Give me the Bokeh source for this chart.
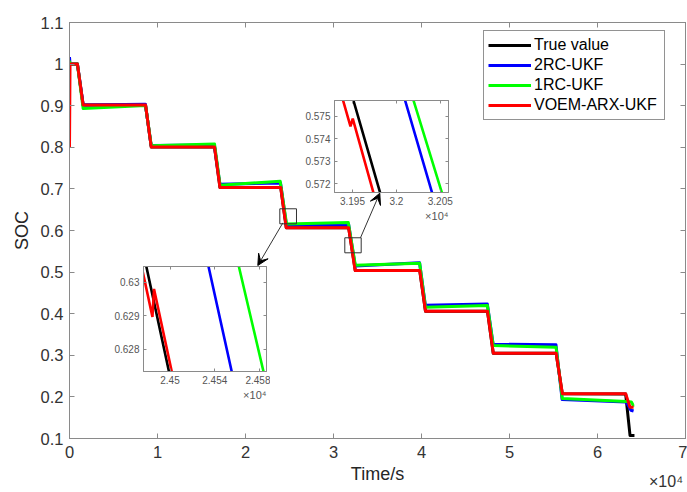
from bokeh.plotting import figure
from bokeh.models import (Range1d, LinearAxis, FixedTicker, CustomJSTickFormatter, Legend,
                          LegendItem, BoxAnnotation, Arrow, VeeHead, GridBox, Title, Div)
from bokeh.embed import file_html
from bokeh.resources import INLINE

# ---------------- data (time in s, SOC) ----------------
true_t = [0, 900, 1550, 8640, 9290, 16480, 17100, 24006, 24634, 31724, 32480, 39800,
          40450, 47500, 48150, 55300, 56000, 63200, 63700, 64200]
true_soc = [1.0, 1.0, 0.9015, 0.9015, 0.8005, 0.8005, 0.7035, 0.7035, 0.6065, 0.6065, 0.504,
            0.504, 0.406, 0.406, 0.305, 0.305, 0.2075, 0.207, 0.107, 0.107]

rc2_t = [0, 60, 900, 1550, 8620, 9280, 16460, 17090, 23980, 24647, 31721, 32466, 39780,
         40440, 47480, 48140, 55280, 55980, 63250, 63800, 64100]
rc2_soc = [1.017, 1.0, 1.0, 0.9015, 0.9035, 0.8045, 0.8055, 0.711, 0.714, 0.6135, 0.6145,
           0.5145, 0.5225, 0.4205, 0.4235, 0.3265, 0.3255, 0.1935, 0.188, 0.168, 0.166]

rc1_t = [0, 60, 900, 1550, 8640, 9300, 16480, 17110, 23941, 24667, 31680, 32484, 39790,
         40450, 47490, 48150, 55290, 56000, 63300, 63850, 64050, 64150]
rc1_soc = [1.008, 1.0, 1.0, 0.893, 0.9005, 0.8035, 0.808, 0.709, 0.7185, 0.6155, 0.619,
           0.5165, 0.5215, 0.4155, 0.4195, 0.3235, 0.3195, 0.196, 0.189, 0.188, 0.18, 0.181]

voem_t = [0, 60, 900, 1550, 8640, 9290, 16480, 17100, 24003, 24484.3, 24485.7, 24636, 31716,
          31947.7, 31950.3, 32455, 39800, 40460, 47500, 48160, 55300, 56010, 63200, 63700, 64100]
voem_soc = [0.80, 1.0, 1.0, 0.9015, 0.9015, 0.8005, 0.8005, 0.7035, 0.7035, 0.62897, 0.6298,
            0.6065, 0.6065, 0.57455, 0.5749, 0.504, 0.504, 0.406, 0.406, 0.305, 0.305, 0.2075,
            0.2075, 0.175, 0.175]

series_names = ["True value", "2RC-UKF", "1RC-UKF", "VOEM-ARX-UKF"]
series_t = [true_t, rc2_t, rc1_t, voem_t]
series_soc = [true_soc, rc2_soc, rc1_soc, voem_soc]
series_colors = ["#000000", "#0000ff", "#00ff00", "#ff0000"]

# ticks
x_ticks = [0, 10000, 20000, 30000, 40000, 50000, 60000, 70000]
x_tick_labels = ["0", "1", "2", "3", "4", "5", "6", "7"]
y_ticks = [0.1, 0.2, 0.3, 0.4, 0.5, 0.6, 0.7, 0.8, 0.9, 1.0, 1.1]
y_tick_labels = ["0.1", "0.2", "0.3", "0.4", "0.5", "0.6", "0.7", "0.8", "0.9", "1", "1.1"]
x_multiplier = "×10⁴"

in1_x_ticks = [24500, 24540, 24580]
in1_x_labels = ["2.45", "2.454", "2.458"]
in1_y_ticks = [0.628, 0.629, 0.630]
in1_y_labels = ["0.628", "0.629", "0.63"]
in2_x_ticks = [31950, 32000, 32050]
in2_x_labels = ["3.195", "3.2", "3.205"]
in2_y_ticks = [0.572, 0.573, 0.574, 0.575]
in2_y_labels = ["0.572", "0.573", "0.574", "0.575"]

FONT = "Liberation Sans"
AX_COL = "#8a8a8a"


def fmt(tv, tl):
    return CustomJSTickFormatter(args=dict(tv=tv, tl=tl), code="""
        for (let i = 0; i < tv.length; i++) {
            if (Math.abs(tv[i] - tick) <= 1e-9 * Math.max(1, Math.abs(tick))) return tl[i];
        }
        return "";
    """)


def blank():
    return CustomJSTickFormatter(code="return '';")


def style_axis(ax, size, color, tick_in, standoff):
    ax.major_tick_in = tick_in
    ax.major_tick_out = 0
    ax.minor_tick_in = 0
    ax.minor_tick_out = 0
    ax.axis_line_color = AX_COL
    ax.major_tick_line_color = AX_COL
    ax.major_label_text_font = FONT
    ax.major_label_text_font_size = size
    ax.major_label_text_color = color
    ax.major_label_standoff = standoff


# ---------------- main figure ----------------
p = figure(width=687, height=492, x_range=Range1d(0, 70000), y_range=Range1d(0.1, 1.1),
           output_backend="svg", toolbar_location=None,
           min_border_left=69, min_border_right=2, min_border_top=22, min_border_bottom=54,
           background_fill_color="white", border_fill_color="white",
           outline_line_color="#5a5a5a")
p.xgrid.visible = False
p.ygrid.visible = False

p.xaxis.ticker = FixedTicker(ticks=x_ticks)
p.xaxis.formatter = fmt(x_ticks, x_tick_labels)
p.yaxis.ticker = FixedTicker(ticks=y_ticks)
p.yaxis.formatter = fmt(y_ticks, y_tick_labels)
style_axis(p.xaxis[0], "16.5px", "#333333", 5, 7)
style_axis(p.yaxis[0], "16.5px", "#333333", 5, 6)
p.xaxis.axis_label = "Time/s"
p.yaxis.axis_label = "SOC"
for ax in (p.xaxis[0], p.yaxis[0]):
    ax.axis_label_text_font = FONT
    ax.axis_label_text_font_size = "18px"
    ax.axis_label_text_font_style = "normal"
    ax.axis_label_text_color = "#262626"
    ax.axis_label_standoff = 3
p.yaxis.axis_label_standoff = 6

ax_r = LinearAxis(ticker=FixedTicker(ticks=y_ticks), formatter=blank())
style_axis(ax_r, "1px", "#333333", 5, 0)
p.add_layout(ax_r, "right")
ax_t = LinearAxis(ticker=FixedTicker(ticks=x_ticks), formatter=blank())
style_axis(ax_t, "1px", "#333333", 5, 0)
p.add_layout(ax_t, "above")

renderers = []
for t, s, c in zip(series_t, series_soc, series_colors):
    renderers.append(p.line(t, s, line_color=c, line_width=3, line_join="round"))

legend = Legend(items=[LegendItem(label=n, renderers=[r]) for n, r in zip(series_names, renderers)],
                location=(414, 318), glyph_width=43, glyph_height=20, label_height=20,
                label_width=126, label_standoff=3, padding=4, spacing=0, margin=0,
                border_line_color="#262626", border_line_width=1,
                label_text_font=FONT, label_text_font_size="16px", label_text_color="#000000",
                background_fill_color="white", background_fill_alpha=1)
p.add_layout(legend)

# zoom boxes & arrows (annotation positions)
box1 = dict(left=23898, right=25795, bottom=0.6161, top=0.6522)
box2 = dict(left=31284, right=33148, bottom=0.5464, top=0.5825)
for b in (box1, box2):
    p.add_layout(BoxAnnotation(left=b["left"], right=b["right"], bottom=b["bottom"], top=b["top"],
                               fill_alpha=0, line_color="#333333", line_alpha=1, line_width=1))
p.add_layout(Arrow(x_start=24250, y_start=0.6185, x_end=21398, y_end=0.5159,
                   line_color="#333333", line_width=1,
                   end=VeeHead(size=11, fill_color="black", line_color="black")))
p.add_layout(Arrow(x_start=33068, y_start=0.5825, x_end=35261, y_end=0.6897,
                   line_color="#333333", line_width=1,
                   end=VeeHead(size=11, fill_color="black", line_color="black")))


# ---------------- insets ----------------
def make_inset(w, h, xr, yr, borders, xt, xl, yt, yl):
    f = figure(width=w, height=h, x_range=Range1d(*xr), y_range=Range1d(*yr),
               output_backend="svg", toolbar_location=None,
               min_border_left=borders[0], min_border_right=borders[1],
               min_border_top=borders[2], min_border_bottom=borders[3],
               background_fill_color="white", border_fill_alpha=0,
               outline_line_color="#7f7f7f")
    f.xgrid.visible = False
    f.ygrid.visible = False
    f.xaxis.ticker = FixedTicker(ticks=xt)
    f.xaxis.formatter = fmt(xt, xl)
    f.yaxis.ticker = FixedTicker(ticks=yt)
    f.yaxis.formatter = fmt(yt, yl)
    style_axis(f.xaxis[0], "10px", "#555555", 3, 4)
    style_axis(f.yaxis[0], "10px", "#555555", 3, 4)
    a1 = LinearAxis(ticker=FixedTicker(ticks=yt), formatter=blank())
    style_axis(a1, "1px", "#555555", 3, 0)
    f.add_layout(a1, "right")
    a2 = LinearAxis(ticker=FixedTicker(ticks=xt), formatter=blank())
    style_axis(a2, "1px", "#555555", 3, 0)
    f.add_layout(a2, "above")
    for t, s, c in zip(series_t, series_soc, series_colors):
        f.line(t, s, line_color=c, line_width=2.6)
    f.add_layout(Title(text=x_multiplier, align="right", text_font=FONT, text_font_size="11px",
                       text_font_style="normal", text_color="#555555", standoff=1, offset=0),
                 "below")
    return f


inset1 = make_inset(170, 149, (24476.3, 24586.2), (0.627346, 0.630467), (43, 4, 3, 41),
                    in1_x_ticks, in1_x_labels, in1_y_ticks, in1_y_labels)
inset2 = make_inset(166, 128, (31929.5, 32059.4), (0.5716, 0.57571), (46, 6, 4, 32),
                    in2_x_ticks, in2_x_labels, in2_y_ticks, in2_y_labels)

# main-axis multiplier in the bottom-right corner
corner = Div(text=x_multiplier, width=40, height=20, margin=0,
             styles={"font-family": FONT, "font-size": "16px", "color": "#333333",
                     "line-height": "20px", "padding-left": "2px", "white-space": "nowrap"})

layout = GridBox(children=[(p, 0, 0, 6, 6), (inset2, 1, 3), (inset1, 3, 1), (corner, 5, 5)],
                 rows=["96px", "128px", "39px", "149px", "60px", "20px"],
                 cols=["100px", "170px", "18px", "166px", "193px", "40px"])

open("out.html", "w").write(file_html(layout, INLINE))
